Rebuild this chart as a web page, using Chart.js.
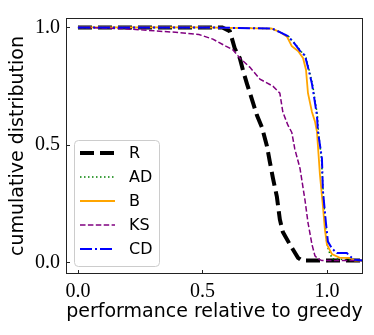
<!doctype html>
<html lang="en">
<head>
  <meta charset="utf-8" />
  <title>Cumulative distribution</title>
  <script src="https://cdn.jsdelivr.net/npm/chart.js@4.4.0/dist/chart.umd.min.js"></script>
  <style>
    body { margin: 0; background: #fff; }
    #box { width: 374px; height: 335px; }
  </style>
</head>
<body>
  <div id="box"><canvas id="cdf" width="374" height="335"></canvas></div>

  <script>
    // series values (x = performance relative to greedy, y = cumulative distribution)
    const rX = [0, 0.3, 0.58, 0.61, 0.63, 0.65, 0.663, 0.679, 0.703, 0.719, 0.739, 0.759, 0.771, 0.783, 0.799, 0.811, 0.823, 0.851, 0.884, 0.9, 1.14];
    const rY = [1.0, 1.0, 1.0, 0.984, 0.91, 0.87, 0.817, 0.76, 0.68, 0.626, 0.575, 0.496, 0.427, 0.36, 0.28, 0.183, 0.13, 0.077, 0.02, 0.008, 0.008];

    const adX = [0, 0.5, 0.78, 0.811, 0.845, 0.873, 0.894, 0.914, 0.926, 0.942, 0.954, 0.962, 0.966, 0.978, 0.986, 0.994, 1.0, 1.012, 1.024, 1.145];
    const adY = [1.0, 1.0, 0.995, 0.98, 0.963, 0.93, 0.9, 0.88, 0.83, 0.76, 0.68, 0.626, 0.557, 0.443, 0.28, 0.16, 0.077, 0.036, 0.016, 0.008];

    const bX = [0, 0.5, 0.78, 0.811, 0.84, 0.859, 0.884, 0.904, 0.916, 0.924, 0.94, 0.952, 0.96, 0.964, 0.972, 0.984, 0.992, 1.0, 1.02, 1.052, 1.09, 1.112, 1.145];
    const bY = [1.0, 1.0, 0.995, 0.98, 0.96, 0.92, 0.9, 0.87, 0.82, 0.72, 0.64, 0.6, 0.557, 0.496, 0.374, 0.24, 0.14, 0.077, 0.036, 0.02, 0.02, 0.008, 0.008];

    const ksX = [0, 0.18, 0.38, 0.486, 0.542, 0.594, 0.622, 0.65, 0.691, 0.731, 0.783, 0.811, 0.823, 0.843, 0.859, 0.871, 0.892, 0.912, 0.924, 0.94, 0.952, 0.964, 0.98, 1.14];
    const ksY = [1.0, 0.995, 0.98, 0.97, 0.95, 0.92, 0.905, 0.87, 0.83, 0.78, 0.75, 0.72, 0.64, 0.585, 0.553, 0.483, 0.4, 0.265, 0.17, 0.077, 0.028, 0.016, 0.008, 0.008];

    const cdX = [0, 0.5, 0.78, 0.811, 0.843, 0.871, 0.892, 0.912, 0.924, 0.94, 0.952, 0.96, 0.964, 0.98, 0.984, 0.996, 1.004, 1.02, 1.04, 1.08, 1.1, 1.112, 1.145];
    const cdY = [1.0, 1.0, 0.995, 0.98, 0.963, 0.93, 0.9, 0.88, 0.83, 0.76, 0.68, 0.626, 0.557, 0.443, 0.305, 0.17, 0.089, 0.06, 0.04, 0.04, 0.02, 0.012, 0.008];

    const seriesNames = ["R", "AD", "B", "KS", "CD"];
    const xTicks = [0, 0.5, 1.0];
    const yTicks = [0, 0.5, 1.0];

    const toPoints = (xs, ys) => xs.map((x, i) => ({ x: x, y: ys[i] }));

    const styles = [
      { color: "#000000", width: 4, dash: [14, 6] },
      { color: "#008000", width: 1.5, dash: [1.5, 2.5] },
      { color: "#FFA500", width: 1.8, dash: [] },
      { color: "#800080", width: 1.5, dash: [5.5, 2.4] },
      { color: "#0000FF", width: 2, dash: [12, 3, 2, 3] },
    ];
    const seriesData = [toPoints(rX, rY), toPoints(adX, adY), toPoints(bX, bY), toPoints(ksX, ksY), toPoints(cdX, cdY)];

    const datasets = seriesNames.map((name, i) => ({
      label: name,
      data: seriesData[i],
      borderColor: styles[i].color,
      borderWidth: styles[i].width,
      borderDash: styles[i].dash,
      pointRadius: 0,
      tension: 0,
      fill: false,
      order: seriesNames.length - i,
    }));

    // frame + inward ticks like matplotlib
    const framePlugin = {
      id: "frame",
      afterDatasetsDraw(chart) {
        const { ctx, chartArea: a, scales } = chart;
        ctx.save();
        ctx.strokeStyle = "#222";
        ctx.lineWidth = 1;
        ctx.strokeRect(a.left + 0.5, a.top + 0.5, a.right - a.left - 1, a.bottom - a.top - 1);
        ctx.beginPath();
        xTicks.forEach(v => {
          const px = Math.round(scales.x.getPixelForValue(v)) + 0.5;
          ctx.moveTo(px, a.bottom);
          ctx.lineTo(px, a.bottom - 4);
        });
        yTicks.forEach(v => {
          const py = Math.round(scales.y.getPixelForValue(v)) + 0.5;
          ctx.moveTo(a.left, py);
          ctx.lineTo(a.left + 4, py);
        });
        ctx.stroke();
        ctx.restore();
      },
    };

    // legend box in the lower left of the plot
    const legendPlugin = {
      id: "boxLegend",
      afterDatasetsDraw(chart) {
        const ctx = chart.ctx;
        const left = 74, top = 140, w = 85, h = 126;
        ctx.save();
        ctx.beginPath();
        ctx.roundRect(left + 0.5, top + 0.5, w, h, 4);
        ctx.fillStyle = "rgba(255,255,255,0.8)";
        ctx.fill();
        ctx.strokeStyle = "#cccccc";
        ctx.lineWidth = 1;
        ctx.stroke();
        ctx.font = "16px 'DejaVu Sans'";
        ctx.textBaseline = "middle";
        seriesNames.forEach((name, i) => {
          const y = 153 + i * 24;
          ctx.beginPath();
          ctx.setLineDash(styles[i].dash);
          ctx.strokeStyle = styles[i].color;
          ctx.lineWidth = styles[i].width;
          ctx.moveTo(80, y);
          ctx.lineTo(115, y);
          ctx.stroke();
          ctx.setLineDash([]);
          ctx.fillStyle = "#000";
          ctx.fillText(name, 129, y + 1);
        });
        ctx.restore();
      },
    };

    const tickFont = { family: "'Liberation Serif'", size: 20 };
    const titleFont = { family: "'DejaVu Sans'", size: 19 };

    new Chart(document.getElementById("cdf"), {
      type: "line",
      data: { datasets: datasets },
      plugins: [framePlugin, legendPlugin],
      options: {
        responsive: false,
        animation: false,
        layout: { padding: { left: 0, right: 11, top: 6, bottom: 0 } },
        plugins: { legend: { display: false }, tooltip: { enabled: false } },
        scales: {
          x: {
            type: "linear",
            min: -0.048,
            max: 1.145,
            grid: { display: false, drawTicks: false },
            border: { display: false },
            afterBuildTicks: s => { s.ticks = xTicks.map(v => ({ value: v })); },
            afterFit: s => { s.height = 61; },
            ticks: {
              color: "#000",
              font: tickFont,
              padding: 6,
              maxRotation: 0,
              callback: v => Number(v).toFixed(1),
            },
            title: {
              display: true,
              text: "performance relative to greedy",
              color: "#000",
              font: titleFont,
              padding: { top: 0, bottom: 12 },
            },
          },
          y: {
            min: -0.049,
            max: 1.04,
            grid: { display: false, drawTicks: false },
            border: { display: false },
            afterBuildTicks: s => { s.ticks = yTicks.map(v => ({ value: v })); },
            afterFit: s => { s.width = 66; },
            ticks: {
              color: "#000",
              font: tickFont,
              padding: 6,
              callback: v => Number(v).toFixed(1),
            },
            title: {
              display: true,
              text: "cumulative distribution",
              color: "#000",
              font: titleFont,
              padding: { top: 7, bottom: 0 },
            },
          },
        },
      },
    });
  </script>
</body>
</html>
